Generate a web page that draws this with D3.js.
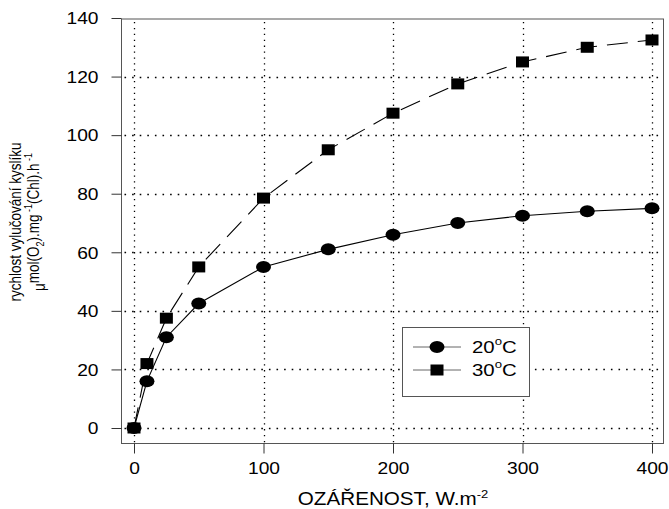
<!DOCTYPE html>
<html>
<head>
<meta charset="utf-8">
<script src="https://cdn.jsdelivr.net/npm/d3@7"></script>
<style>
  body { margin: 0; background: #fff; }
  text { font-family: "Liberation Sans", Arial, sans-serif; fill: #000; }
</style>
</head>
<body>
<svg id="chart" width="669" height="509"></svg>
<script>
// Irradiance levels (W.m-2)
const irradiance = [0, 10, 25, 50, 100, 150, 200, 250, 300, 350, 400];
// Oxygen evolution rate at 20 °C
const rate20 = [0, 16, 31, 42.5, 55, 61, 66, 70, 72.5, 74, 75];
// Oxygen evolution rate at 30 °C
const rate30 = [0, 22, 37.5, 55, 78.5, 95, 107.5, 117.5, 125, 130, 132.5];
const xTicks = [0, 100, 200, 300, 400];
const yTicks = [0, 20, 40, 60, 80, 100, 120, 140];
const seriesNames = ["20°C", "30°C"];

// the typeface is drawn wide: horizontal stretch applied to every label
const WIDE = 1.2;

const svg = d3.select("#chart");
const frame = { left: 121.5, top: 19, right: 663.5, bottom: 443.5 };

const x = d3.scaleLinear().domain([0, 400]).range([134, 652]);
const y = d3.scaleLinear().domain([0, 140]).range([428, 18]);

// plot frame
svg.append("rect")
  .attr("x", frame.left).attr("y", frame.top)
  .attr("width", frame.right - frame.left).attr("height", frame.bottom - frame.top)
  .attr("fill", "none").attr("stroke", "#555").attr("stroke-width", 1);

// dotted grid
const grid = svg.append("g").attr("stroke", "#000").attr("stroke-width", 1.3);
grid.selectAll("line.v").data(xTicks).join("line")
  .attr("stroke-dasharray", "1.3,4.6")
  .attr("x1", d => Math.round(x(d)) + 0.5).attr("x2", d => Math.round(x(d)) + 0.5)
  .attr("y1", frame.top + 3).attr("y2", frame.bottom - 1);
grid.selectAll("line.h").data(yTicks.filter(d => d < 140)).join("line")
  .attr("stroke-dasharray", "1.6,6")
  .attr("y1", d => Math.round(y(d)) + 0.5).attr("y2", d => Math.round(y(d)) + 0.5)
  .attr("x1", frame.left + 3).attr("x2", frame.right - 1);

// axes
const xAxis = d3.axisBottom(x).tickValues(xTicks).tickSize(10);
const yAxis = d3.axisLeft(y).tickValues(yTicks).tickSize(10);

const gx = svg.append("g").attr("transform", `translate(0,${frame.bottom})`).call(xAxis);
gx.select(".domain").remove();
gx.selectAll("line").attr("stroke", "#333");
gx.selectAll("text")
  .attr("font-size", 16).attr("font-family", "Liberation Sans, Arial, sans-serif")
  .attr("y", 0).attr("dy", "0.71em")
  .attr("transform", `translate(0,19.5) scale(${WIDE},1)`);

const gy = svg.append("g").attr("transform", `translate(${frame.left},0)`).call(yAxis);
gy.select(".domain").remove();
gy.selectAll("line").attr("stroke", "#333");
gy.selectAll("text")
  .attr("font-size", 16).attr("font-family", "Liberation Sans, Arial, sans-serif")
  .attr("x", 0).attr("dy", "0.36em")
  .attr("transform", `translate(-23,0) scale(${WIDE},1)`);

// series lines
const line = d3.line().x(d => x(d[0])).y(d => y(d[1]));
const pts20 = irradiance.map((v, i) => [v, rate20[i]]);
const pts30 = irradiance.map((v, i) => [v, rate30[i]]);

svg.append("path").datum(pts20).attr("d", line)
  .attr("fill", "none").attr("stroke", "#000").attr("stroke-width", 1.1);
svg.append("path").datum(pts30).attr("d", line)
  .attr("fill", "none").attr("stroke", "#000").attr("stroke-width", 1.1)
  .attr("stroke-dasharray", "21,10");

// markers
svg.append("g").selectAll("ellipse").data(pts20).join("ellipse")
  .attr("cx", d => x(d[0])).attr("cy", d => y(d[1]))
  .attr("rx", 7.5).attr("ry", 6).attr("fill", "#000");
svg.append("g").selectAll("rect").data(pts30).join("rect")
  .attr("x", d => x(d[0]) - 6.5).attr("y", d => y(d[1]) - 5.5)
  .attr("width", 13).attr("height", 11).attr("fill", "#000");

// legend
const lg = svg.append("g");
lg.append("rect").attr("x", 402.5).attr("y", 327.5).attr("width", 127).attr("height", 69)
  .attr("fill", "#fff").attr("stroke", "#555");
const legendRows = [{ name: seriesNames[0], y: 347, shape: "circle" },
                    { name: seriesNames[1], y: 370, shape: "square" }];
legendRows.forEach(r => {
  lg.append("line").attr("x1", 413).attr("x2", 461).attr("y1", r.y).attr("y2", r.y)
    .attr("stroke", "#666").attr("stroke-width", 1);
  if (r.shape === "circle") {
    lg.append("ellipse").attr("cx", 437).attr("cy", r.y).attr("rx", 7.5).attr("ry", 6).attr("fill", "#000");
  } else {
    lg.append("rect").attr("x", 430.5).attr("y", r.y - 5.5).attr("width", 13).attr("height", 11).attr("fill", "#000");
  }
  const t = lg.append("text").attr("transform", `translate(472,${r.y + 6}) scale(${WIDE},1)`)
    .attr("font-size", 17);
  const num = r.name.replace("°C", "");
  t.append("tspan").text(num);
  t.append("tspan").text("o").attr("font-size", 11).attr("dy", -8);
  t.append("tspan").text("C").attr("dy", 8);
});

// x-axis title
const xt = svg.append("text").attr("transform", `translate(393,505) scale(1.18,1)`)
  .attr("text-anchor", "middle").attr("font-size", 17.5);
xt.append("tspan").text("OZÁŘENOST, W.m");
xt.append("tspan").text("-2").attr("font-size", 11).attr("dy", -7);

// y-axis title (two rotated lines)
const yt = svg.append("g").attr("transform", `translate(21,222) scale(${WIDE},1) rotate(-90)`);
yt.append("text").attr("text-anchor", "middle").attr("font-size", 13.5)
  .text("rychlost vylučování kyslíku");
const yt2 = yt.append("text").attr("text-anchor", "middle").attr("y", 17).attr("font-size", 13.5);
yt2.append("tspan").text("μ").attr("dy", 3);
yt2.append("tspan").text("mol(O").attr("dy", -5);
yt2.append("tspan").text("2").attr("font-size", 9).attr("dy", 4);
yt2.append("tspan").text(").mg").attr("dy", -4);
yt2.append("tspan").text(" -1").attr("font-size", 9).attr("dy", -6);
yt2.append("tspan").text("(Chl).h").attr("dy", 6);
yt2.append("tspan").text(" -1").attr("font-size", 9).attr("dy", -6);
</script>
</body>
</html>
